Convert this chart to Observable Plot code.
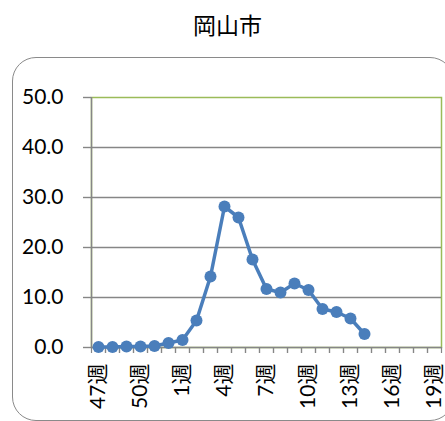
<!DOCTYPE html>
<html>
<head>
<meta charset="utf-8">
<script src="https://cdn.jsdelivr.net/npm/d3@7"></script>
<script src="https://cdn.jsdelivr.net/npm/@observablehq/plot@0.6"></script>
<style>
  html, body { margin: 0; padding: 0; background: #fff; overflow: hidden; }
  #wrap { position: relative; width: 445px; height: 421px; overflow: hidden; }
  #title { position: absolute; left: 5px; top: 9px; width: 445px; text-align: center;
           font-family: "Noto Sans CJK JP", sans-serif; font-size: 23px; line-height: 30px; color: #000; }
  #box { position: absolute; left: 12px; top: 57px; width: 442px; height: 364px; box-sizing: border-box;
         border: 1.6px solid #8a8a8a; border-radius: 24px; }
  #chart { position: absolute; left: 0; top: 0; }
</style>
</head>
<body>
<div id="wrap">
  <div id="box"></div>
  <div id="title">岡山市</div>
  <div id="chart"></div>
</div>
<script>
const weeks = ["47週","48週","49週","50週","51週","52週","1週","2週","3週","4週","5週","6週","7週","8週","9週","10週","11週","12週","13週","14週","15週","16週","17週","18週","19週"];
const values = [0.1,0.1,0.2,0.2,0.3,0.9,1.5,5.4,14.2,28.2,26.0,17.6,11.7,11.0,12.8,11.5,7.7,7.1,5.8,2.7];
const xLabels = ["47週","50週","1週","4週","7週","10週","13週","16週","19週"];
const yTicks = [0,10,20,30,40,50];
const gridTicks = [0,10,20,30,40];

const data = values.map((v, i) => ({week: weeks[i], value: v}));
const gray = "#868686";
const blue = "#4A7EBB";

const chart = Plot.plot({
  width: 445,
  height: 421,
  marginLeft: 91,
  marginRight: 4,
  marginTop: 97,
  marginBottom: 74,
  style: {fontFamily: "Lato, 'Noto Sans CJK JP', sans-serif", background: "transparent", color: "#000"},
  x: {type: "point", domain: weeks, padding: 0.5},
  y: {domain: [0, 50]},
  marks: [
    Plot.frame({stroke: "#9BBB59", strokeWidth: 1.5}),
    Plot.gridY(gridTicks, {stroke: gray, strokeOpacity: 1, strokeWidth: 1.4}),
    Plot.ruleX([weeks[0]], {x: d => d, dx: -7, stroke: gray, strokeWidth: 1.4}),
    Plot.axisY(yTicks, {tickSize: 8, tickPadding: 20, tickFormat: d3.format(".1f"), fontSize: 21, stroke: gray, strokeWidth: 1.4, label: null}),
    Plot.axisX(weeks, {tickSize: 6, tickFormat: () => "", dx: -7, stroke: gray, strokeWidth: 1.2, label: null}),
    Plot.axisX(weeks, {tickSize: 6, tickFormat: () => "", dx: 7, stroke: gray, strokeWidth: 1.2, label: null}),
    Plot.axisX(xLabels, {tickSize: 0, tickPadding: 16, tickRotate: -90, fontSize: 21, label: null}),
    Plot.line(data, {x: "week", y: "value", stroke: blue, strokeWidth: 3.5}),
    Plot.dot(data, {x: "week", y: "value", r: 6, fill: blue, stroke: "none"})
  ]
});
document.getElementById("chart").appendChild(chart);
</script>
</body>
</html>
